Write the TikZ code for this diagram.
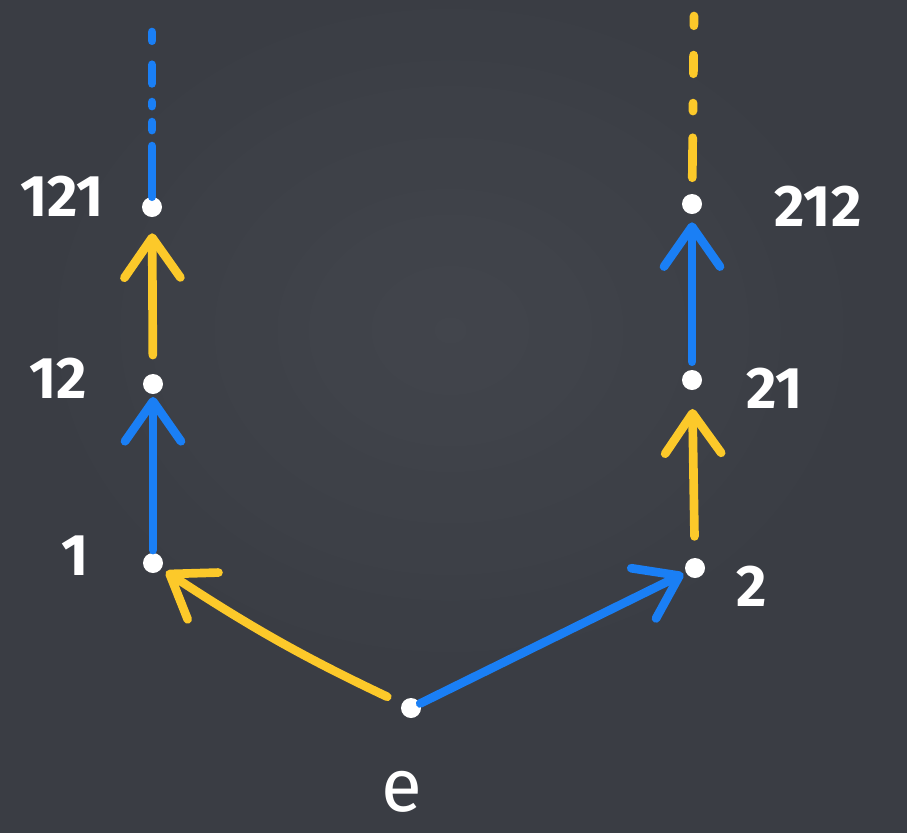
\documentclass[tikz,border=0pt]{standalone}
\usepackage{fontspec}
\setmainfont{Fira Sans}
\usetikzlibrary{arrows.meta}
\definecolor{board}{RGB}{58,61,68}
\definecolor{boardlight}{RGB}{72,75,82}
\definecolor{chalkyellow}{RGB}{252,201,42}
\definecolor{chalkblue}{RGB}{26,127,245}
\tikzset{
  dot/.style={circle, fill=white, inner sep=0pt, minimum size=15pt},
  lbl/.style={text=white, font=\fontsize{44}{48}\selectfont\bfseries, inner sep=0pt},
  stroke/.style={line width=6.5pt, line cap=round, line join=round},
  yarrow/.style={stroke, draw=chalkyellow, -{Straight Barb[length=30pt, width=42pt, round]}},
  barrow/.style={stroke, draw=chalkblue, -{Straight Barb[length=30pt, width=42pt, round]}},
  ydots/.style={stroke, draw=chalkyellow, dash pattern=on 30pt off 20pt on 6pt off 22pt on 14pt off 22pt on 16pt off 20pt},
  bdots/.style={stroke, draw=chalkblue, dash pattern=on 38pt off 12pt on 6pt off 12pt on 3pt off 14pt on 14pt off 18pt on 10pt off 20pt},
}
\begin{document}
\begin{tikzpicture}[x=0.75pt, y=-0.75pt]
\useasboundingbox (0,0) rectangle (907,833);
\fill[board] (0,0) rectangle (907,833);
\shade[inner color=boardlight, outer color=board, opacity=0.6] (450,330) ellipse (440 and 360);

% nodes
\node[dot] (e) at (411,708) {};
\node[dot] (n1) at (153,563) {};
\node[dot] (n2) at (695,568) {};
\node[dot] (n12) at (153,384) {};
\node[dot] (n21) at (692,380) {};
\node[dot] (n121) at (152,207) {};
\node[dot] (n212) at (692,204) {};
\coordinate (top1) at (152,32);
\coordinate (top2) at (694,16);

% labels
\node[lbl] (le) at (402,792) {\fontsize{56}{60}\selectfont\mdseries e};
\node[lbl] (l1) at (75,556) {1};
\node[lbl] (l2) at (752,586) {2};
\node[lbl] (l12) at (58,378) {12};
\node[lbl] (l21) at (775,388) {21};
\node[lbl] (l121) at (62,196) {121};
\node[lbl] (l212) at (818,206) {212};

% connectors
\draw[yarrow, shorten <=12pt, shorten >=4pt] (e) to[bend left=4] (n1);
\draw[barrow, shorten >=2pt] (e) -- (n2);
\draw[barrow, shorten <=2pt, shorten >=2pt] (n1) -- (n12);
\draw[yarrow, shorten <=14pt, shorten >=12pt] (n12) -- (n121);
\draw[yarrow, shorten <=16pt, shorten >=14pt] (n2) -- (n21);
\draw[barrow, shorten <=6pt, shorten >=6pt] (n21) -- (n212);
\draw[bdots] (n121) -- (top1);
\draw[ydots, shorten <=12pt] (n212) -- (top2);
\end{tikzpicture}
\end{document}
